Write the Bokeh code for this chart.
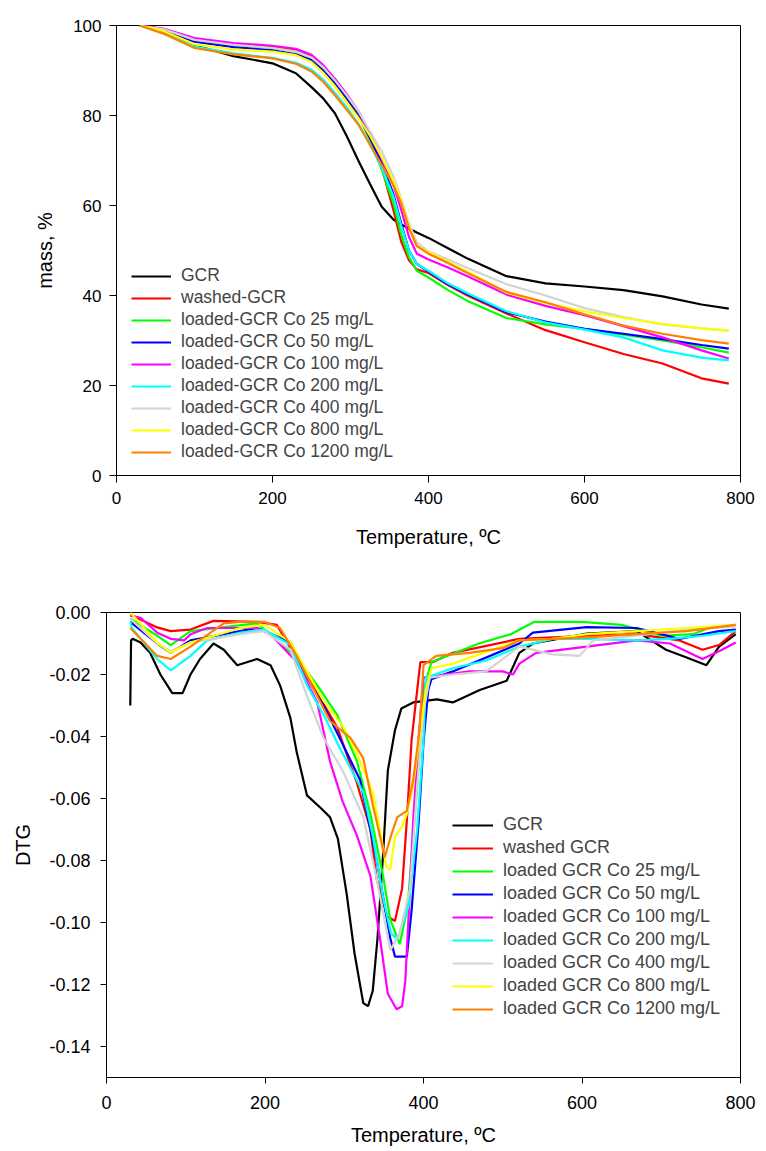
from bokeh.plotting import figure
from bokeh.models import Range1d, FixedTicker, NumeralTickFormatter, Legend, LegendItem
from bokeh.layouts import column, row
from bokeh.embed import file_html
from bokeh.resources import INLINE

FONT = "Liberation Sans"

# ---------------- TGA (mass %) data ----------------
T_mass = [30, 60, 100, 150, 200, 230, 250, 265, 280, 295, 310, 325, 340, 355, 365, 375, 385, 400, 425, 450, 500, 550, 600, 650, 700, 750, 785]
mass_gcr = [100, 98.6, 95.6, 93.2, 91.6, 89.4, 86.3, 83.8, 80.5, 75.5, 70.0, 64.8, 59.7, 56.9, 55.8, 54.9, 54.0, 52.8, 50.5, 48.2, 44.3, 42.7, 42.0, 41.2, 39.8, 38.0, 37.1]
mass_washed = [100, 99.2, 96.8, 95.9, 95.3, 94.5, 93.2, 91.0, 88.0, 84.5, 80.5, 75.0, 68.5, 59.0, 52.0, 47.8, 45.8, 45.0, 42.3, 40.0, 36.0, 32.3, 29.6, 27.0, 24.9, 21.6, 20.4]
mass_25 = [100, 99.0, 96.5, 95.6, 95.0, 94.2, 92.9, 90.6, 87.6, 84.0, 80.0, 74.5, 68.0, 60.5, 53.5, 48.5, 45.5, 44.0, 41.2, 38.8, 35.0, 33.6, 32.6, 31.3, 30.0, 28.5, 27.3]
mass_50 = [100, 99.1, 96.4, 95.2, 94.5, 93.6, 92.3, 90.0, 87.2, 83.8, 80.0, 75.0, 69.5, 62.5, 56.0, 50.0, 47.0, 45.3, 42.5, 40.3, 36.3, 34.2, 32.6, 31.5, 30.3, 29.0, 28.2]
mass_100 = [100, 99.3, 97.2, 96.1, 95.5, 94.8, 93.5, 91.2, 88.2, 84.8, 81.0, 76.0, 70.5, 64.5, 59.0, 53.0, 49.3, 48.0, 46.2, 44.3, 40.2, 37.7, 35.6, 33.2, 30.7, 27.8, 26.0]
mass_200 = [100, 98.3, 95.3, 93.8, 92.8, 91.7, 90.2, 88.0, 85.0, 81.8, 78.2, 73.5, 68.5, 62.0, 55.5, 50.0, 47.0, 45.5, 42.7, 40.5, 36.5, 34.0, 32.4, 30.7, 27.8, 26.2, 25.6]
mass_400 = [100, 99.2, 96.8, 95.7, 95.0, 94.2, 92.9, 90.7, 87.8, 84.5, 81.0, 76.5, 72.0, 66.5, 61.5, 56.0, 51.8, 49.8, 48.0, 46.1, 42.5, 40.0, 37.2, 35.2, 33.6, 32.7, 32.2]
mass_800 = [100, 98.8, 95.8, 94.7, 94.2, 93.4, 91.9, 89.5, 86.5, 83.0, 79.5, 75.5, 70.8, 65.5, 61.0, 55.5, 51.0, 49.6, 47.5, 45.3, 40.6, 38.3, 36.5, 35.0, 33.7, 32.7, 32.2]
mass_1200 = [100, 98.2, 95.0, 93.6, 92.7, 91.5, 89.8, 87.5, 84.5, 81.3, 78.0, 73.5, 69.0, 64.5, 60.5, 55.0, 51.0, 49.3, 47.2, 45.0, 40.8, 38.5, 35.8, 33.3, 31.5, 30.1, 29.3]

labels_mass = ["GCR", "washed-GCR", "loaded-GCR Co 25 mg/L", "loaded-GCR Co 50 mg/L",
               "loaded-GCR Co 100 mg/L", "loaded-GCR Co 200 mg/L", "loaded-GCR Co 400 mg/L",
               "loaded-GCR Co 800 mg/L", "loaded-GCR Co 1200 mg/L"]

# ---------------- DTG data ----------------
t_gcr = [30, 31, 33, 43, 55, 68, 83, 96, 106, 118, 135, 148, 165, 190, 207, 219, 232, 240, 253, 270, 282, 292, 303, 313, 324, 330, 336, 342, 349, 355, 364, 372, 387, 417, 437, 471, 505, 521, 538, 606, 669, 706, 732, 757, 773, 794]
d_gcr = [-0.030, -0.009, -0.0085, -0.0097, -0.013, -0.020, -0.026, -0.026, -0.020, -0.015, -0.010, -0.012, -0.017, -0.015, -0.017, -0.0235, -0.034, -0.045, -0.059, -0.063, -0.066, -0.073, -0.0907, -0.110, -0.126, -0.127, -0.122, -0.105, -0.078, -0.051, -0.038, -0.031, -0.029, -0.028, -0.029, -0.025, -0.022, -0.013, -0.010, -0.0068, -0.006, -0.012, -0.0145, -0.017, -0.011, -0.007]

t_washed = [30, 32, 64, 81, 106, 135, 190, 215, 240, 266, 291, 316, 333, 341, 354, 364, 373, 379, 385, 396, 412, 437, 521, 606, 669, 723, 752, 773, 794]
d_washed = [-0.001, -0.001, -0.0048, -0.006, -0.0055, -0.0027, -0.003, -0.004, -0.015, -0.026, -0.037, -0.055, -0.070, -0.086, -0.098, -0.0995, -0.089, -0.067, -0.041, -0.016, -0.016, -0.013, -0.0085, -0.0075, -0.007, -0.009, -0.012, -0.0105, -0.006]

t_25 = [30, 64, 81, 106, 190, 240, 266, 291, 316, 333, 349, 358, 370, 380, 392, 400, 410, 420, 470, 510, 540, 600, 650, 700, 740, 760, 794]
d_25 = [-0.002, -0.0075, -0.0105, -0.006, -0.0035, -0.0145, -0.0235, -0.033, -0.048, -0.065, -0.085, -0.099, -0.107, -0.095, -0.056, -0.025, -0.016, -0.015, -0.010, -0.007, -0.003, -0.003, -0.004, -0.0075, -0.007, -0.005, -0.004]

t_50 = [30, 64, 81, 106, 190, 232, 253, 274, 299, 320, 341, 358, 364, 379, 385, 394, 400, 406, 410, 437, 521, 538, 606, 669, 723, 773, 794]
d_50 = [-0.003, -0.010, -0.013, -0.009, -0.005, -0.0095, -0.021, -0.030, -0.043, -0.054, -0.080, -0.105, -0.111, -0.111, -0.096, -0.067, -0.042, -0.025, -0.0215, -0.019, -0.010, -0.0065, -0.0047, -0.005, -0.0085, -0.006, -0.0055]

t_100 = [30, 43, 64, 81, 98, 106, 127, 190, 207, 240, 266, 282, 298, 316, 333, 345, 355, 366, 373, 377, 381, 387, 394, 400, 458, 500, 513, 521, 542, 606, 669, 711, 752, 773, 794]
d_100 = [-0.001, -0.0017, -0.0065, -0.0085, -0.009, -0.007, -0.005, -0.005, -0.007, -0.016, -0.029, -0.048, -0.061, -0.072, -0.085, -0.105, -0.123, -0.128, -0.127, -0.119, -0.099, -0.067, -0.040, -0.021, -0.019, -0.019, -0.020, -0.0165, -0.013, -0.011, -0.009, -0.010, -0.015, -0.0125, -0.0097]

t_200 = [30, 32, 64, 81, 106, 127, 169, 199, 232, 253, 274, 295, 324, 336, 349, 359, 367, 381, 392, 400, 403, 437, 479, 521, 563, 606, 669, 711, 752, 794]
d_200 = [-0.003, -0.005, -0.015, -0.0187, -0.014, -0.009, -0.0065, -0.0055, -0.0105, -0.0235, -0.033, -0.044, -0.058, -0.072, -0.092, -0.1035, -0.1055, -0.095, -0.070, -0.041, -0.021, -0.018, -0.0155, -0.011, -0.0085, -0.0085, -0.009, -0.0085, -0.0075, -0.006]

t_400 = [30, 64, 81, 106, 169, 199, 232, 253, 274, 299, 324, 341, 354, 358, 370, 383, 392, 400, 408, 437, 479, 521, 563, 597, 614, 669, 732, 794]
d_400 = [-0.002, -0.010, -0.0125, -0.0097, -0.007, -0.006, -0.012, -0.027, -0.0405, -0.0515, -0.066, -0.086, -0.1035, -0.109, -0.1035, -0.089, -0.056, -0.032, -0.021, -0.020, -0.019, -0.011, -0.0135, -0.014, -0.009, -0.0075, -0.0055, -0.0045]

t_800 = [30, 64, 81, 106, 169, 199, 232, 253, 274, 299, 316, 336, 345, 353, 358, 364, 373, 379, 387, 395, 403, 410, 437, 521, 563, 606, 669, 732, 794]
d_800 = [0.0, -0.0097, -0.013, -0.0097, -0.005, -0.004, -0.0095, -0.019, -0.0285, -0.037, -0.0455, -0.058, -0.070, -0.082, -0.083, -0.0725, -0.069, -0.065, -0.056, -0.040, -0.025, -0.018, -0.0165, -0.009, -0.0085, -0.007, -0.006, -0.005, -0.004]

t_1200 = [30, 64, 81, 106, 148, 169, 199, 219, 240, 266, 282, 308, 324, 336, 345, 351, 359, 367, 379, 387, 395, 400, 416, 458, 500, 521, 563, 606, 669, 732, 794]
d_1200 = [-0.005, -0.014, -0.015, -0.011, -0.0035, -0.003, -0.003, -0.005, -0.014, -0.027, -0.035, -0.0405, -0.047, -0.062, -0.072, -0.079, -0.072, -0.066, -0.064, -0.054, -0.038, -0.017, -0.014, -0.013, -0.0115, -0.009, -0.0085, -0.008, -0.007, -0.006, -0.004]

labels_dtg = ["GCR", "washed GCR", "loaded GCR Co 25 mg/L", "loaded GCR Co 50 mg/L",
              "loaded GCR Co 100 mg/L", "loaded GCR Co 200 mg/L", "loaded GCR Co 400 mg/L",
              "loaded GCR Co 800 mg/L", "loaded GCR Co 1200 mg/L"]

colors = ["#000000", "#FF0000", "#00FF00", "#0000FF", "#FF00FF", "#00FFFF", "#D3D3D3", "#FFFF00", "#FF8000"]

x_ticks = [0, 200, 400, 600, 800]
mass_ticks = [0, 20, 40, 60, 80, 100]
dtg_ticks = [-0.14, -0.12, -0.10, -0.08, -0.06, -0.04, -0.02, 0.0]


def style(p, tick_size, label_size):
    p.outline_line_color = "black"
    p.outline_line_width = 1
    p.outline_line_alpha = 1
    p.xgrid.visible = False
    p.ygrid.visible = False
    p.background_fill_color = "white"
    p.border_fill_color = "white"
    for ax in (p.xaxis[0], p.yaxis[0]):
        ax.axis_line_color = "black"
        ax.major_tick_line_color = "black"
        ax.major_tick_in = 0
        ax.major_tick_out = 7
        ax.minor_tick_line_color = None
        ax.major_label_text_font = FONT
        ax.major_label_text_font_size = tick_size
        ax.major_label_text_color = "black"
        ax.axis_label_text_font = FONT
        ax.axis_label_text_font_size = label_size
        ax.axis_label_text_font_style = "normal"
        ax.axis_label_text_color = "black"


# ---------------- top figure ----------------
p1 = figure(width=766, height=575, output_backend="svg", toolbar_location=None,
            x_range=Range1d(0, 800), y_range=Range1d(0, 100),
            min_border_left=116, min_border_right=26, min_border_top=25, min_border_bottom=100)
style(p1, "17px", "20px")
p1.xaxis.ticker = FixedTicker(ticks=x_ticks)
p1.yaxis.ticker = FixedTicker(ticks=mass_ticks)
p1.xaxis.axis_label = "Temperature, ºC"
p1.yaxis.axis_label = "mass, %"
p1.xaxis.major_label_standoff = 9
p1.yaxis.major_label_standoff = 8
p1.xaxis.axis_label_standoff = 19
p1.yaxis.axis_label_standoff = 14

mass_series = [mass_gcr, mass_washed, mass_25, mass_50, mass_100, mass_200, mass_400, mass_800, mass_1200]
items1 = []
for lab, col, ys in zip(labels_mass, colors, mass_series):
    r = p1.line(T_mass, ys, line_color=col, line_width=2.2)
    items1.append(LegendItem(label=lab, renderers=[r]))
leg1 = Legend(items=items1, location=(15, 13), padding=0, margin=0, spacing=1,
              glyph_width=40, glyph_height=20, label_height=20, label_standoff=10,
              label_text_font=FONT, label_text_font_size="17.5px",
              border_line_color=None, background_fill_alpha=0)
p1.add_layout(leg1)

# ---------------- bottom figure ----------------
p2 = figure(width=766, height=576, output_backend="svg", toolbar_location=None,
            x_range=Range1d(0, 800), y_range=Range1d(-0.15, 0.0),
            min_border_left=106, min_border_right=26, min_border_top=37, min_border_bottom=74)
style(p2, "18px", "20px")
p2.xaxis.ticker = FixedTicker(ticks=x_ticks)
p2.yaxis.ticker = FixedTicker(ticks=dtg_ticks)
p2.yaxis.formatter = NumeralTickFormatter(format="0.00")
p2.xaxis.axis_label = "Temperature, ºC"
p2.yaxis.axis_label = "DTG"
p2.xaxis.major_tick_out = 6
p2.yaxis.major_tick_out = 6
p2.xaxis.major_label_standoff = 12
p2.yaxis.major_label_standoff = 10
p2.xaxis.axis_label_standoff = 12
p2.yaxis.axis_label_standoff = 12

dtg_series = [(t_gcr, d_gcr), (t_washed, d_washed), (t_25, d_25), (t_50, d_50), (t_100, d_100),
              (t_200, d_200), (t_400, d_400), (t_800, d_800), (t_1200, d_1200)]
items2 = []
for lab, col, (xs, ys) in zip(labels_dtg, colors, dtg_series):
    r = p2.line(xs, ys, line_color=col, line_width=2.2)
    items2.append(LegendItem(label=lab, renderers=[r]))
leg2 = Legend(items=items2, location=(346, 58), padding=0, margin=0, spacing=2,
              glyph_width=41, glyph_height=20, label_height=20, label_standoff=10,
              label_text_font=FONT, label_text_font_size="18px",
              border_line_color=None, background_fill_alpha=0)
p2.add_layout(leg2)

layout = column(row(p1), row(p2), spacing=0)
open("out.html", "w").write(file_html(layout, INLINE))
